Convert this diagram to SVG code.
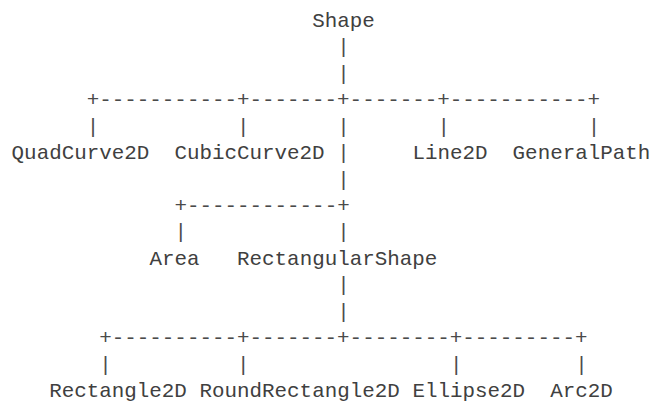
<svg xmlns="http://www.w3.org/2000/svg" width="651" height="402" viewBox="0 0 651 402">
<style>
  text { font-family: "Liberation Mono", "DejaVu Sans Mono", monospace; font-size: 20.875px; fill: #404040; }
  .conn text { fill: #4a4a4a; }
</style>
<rect width="651" height="402" fill="#ffffff"/>
<g class="conn" id="connectors">
  <text x="337.25" y="53.43">|</text>
  <text x="337.25" y="79.86">|</text>
  <text x="86.75" y="106.29">+-----------+-------+-------+-----------+</text>
  <text x="86.75" y="132.72">|</text>
  <text x="237.05" y="132.72">|</text>
  <text x="337.25" y="132.72">|</text>
  <text x="437.45" y="132.72">|</text>
  <text x="587.75" y="132.72">|</text>
  <text x="337.25" y="159.15">|</text>
  <text x="337.25" y="185.58">|</text>
  <text x="174.43" y="212.01">+------------+</text>
  <text x="174.43" y="238.44">|</text>
  <text x="337.25" y="238.44">|</text>
  <text x="337.25" y="291.3">|</text>
  <text x="337.25" y="317.73">|</text>
  <text x="99.28" y="344.16">+----------+-------+--------+---------+</text>
  <text x="99.28" y="370.59">|</text>
  <text x="237.05" y="370.59">|</text>
  <text x="449.98" y="370.59">|</text>
  <text x="575.23" y="370.59">|</text>
</g>
<g id="node-shape"><text x="312.2" y="27">Shape</text></g>
<g id="node-quadcurve2d"><text x="11.6" y="159.15">QuadCurve2D</text></g>
<g id="node-cubiccurve2d"><text x="174.43" y="159.15">CubicCurve2D</text></g>
<g id="node-line2d"><text x="412.4" y="159.15">Line2D</text></g>
<g id="node-generalpath"><text x="512.6" y="159.15">GeneralPath</text></g>
<g id="node-area"><text x="149.38" y="264.87">Area</text></g>
<g id="node-rectangularshape"><text x="237.05" y="264.87">RectangularShape</text></g>
<g id="node-rectangle2d"><text x="49.18" y="397.02">Rectangle2D</text></g>
<g id="node-roundrectangle2d"><text x="199.48" y="397.02">RoundRectangle2D</text></g>
<g id="node-ellipse2d"><text x="412.4" y="397.02">Ellipse2D</text></g>
<g id="node-arc2d"><text x="550.18" y="397.02">Arc2D</text></g>
</svg>
